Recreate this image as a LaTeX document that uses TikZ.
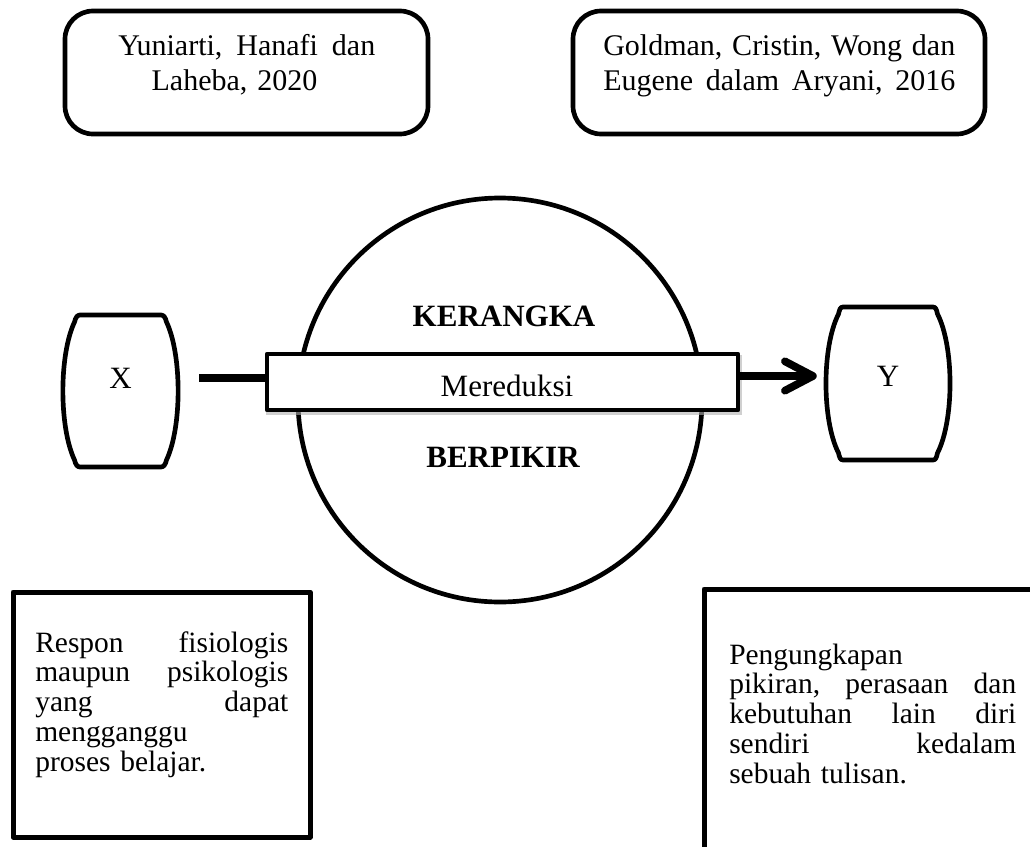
\documentclass[tikz,border=0pt]{standalone}
\usepackage{fontspec}
\setmainfont{Liberation Serif}
\usetikzlibrary{arrows.meta,fit}
\newcommand\fntTop{\fontsize{22.5pt}{26.25pt}\selectfont}
\newcommand\fntBot{\fontsize{22.1pt}{22.4pt}\selectfont}
\newcommand\fntCtr{\fontsize{23.25pt}{28pt}\selectfont}
\begin{document}
\begin{tikzpicture}[x=0.75pt,y=-0.75pt,
  bd/.style={line width=3.5pt, line join=round},
  topbox/.style={bd, draw, rounded corners=21pt, inner sep=0pt},
  sqbox/.style={draw, line width=3.75pt, line join=round, inner sep=0pt},
  txt/.style={inner sep=0pt, align=left, anchor=base west},
  conn/.style={line width=5.75pt},
  shade/.style={draw=black!30, opacity=0.6, shift={(1.5,3)}},
  lbl/.style={inner sep=0pt, font=\fntCtr}]
\clip (0,0) rectangle (1030,846);
\fill[white] (0,0) rectangle (1030,846);

% top boxes
\coordinate (tl1) at (65,11);
\coordinate (tl2) at (428,134);
\node[topbox, fit=(tl1)(tl2)] (TL) {};
\node[txt, font=\fntTop, text width=192.75pt] (TLt) at (118,55)
  {Yuniarti,\hfill Hanafi\hfill dan\\\hspace*{25pt}Laheba, 2020};
\coordinate (tr1) at (573,11);
\coordinate (tr2) at (985,134);
\node[topbox, fit=(tr1)(tr2)] (TR) {};
\node[txt, font=\fntTop, text width=264pt] (TRt) at (603,55)
  {Goldman,\hfill Cristin,\hfill Wong\hfill dan\\Eugene\hfill dalam\hfill Aryani,\hfill 2016};

% circle
\node[bd, draw, circle, minimum size=303pt, inner sep=0pt] (C) at (500,400) {};
\node[lbl, anchor=base, font=\fntCtr\bfseries] (K) at (504,326) {KERANGKA};
\node[lbl, anchor=base, font=\fntCtr\bfseries] (B) at (503,467) {BERPIKIR};

% X and Y
\node[lbl, minimum width=86.25pt] (X) at (120.5,378) {X};
\draw[bd] (80,315) -- (161,315) .. controls (164,315) and (165.5,318) .. (166.5,322)
  .. controls (182,355) and (182,427) .. (166.5,460)
  .. controls (165.5,464) and (164,467) .. (161,467) -- (80,467)
  .. controls (77,467) and (75.5,464) .. (74.5,460)
  .. controls (59,427) and (59,355) .. (74.5,322)
  .. controls (75.5,318) and (77,315) .. (80,315) -- cycle;
\node[lbl, minimum width=93pt] (Y) at (888,376) {Y};
\draw[bd] (843,307) -- (933,307) .. controls (936,307) and (936.5,310) .. (937.5,314)
  .. controls (954.2,347) and (954.2,420) .. (937.5,453)
  .. controls (936.5,457) and (936,460) .. (933,460) -- (843,460)
  .. controls (840,460) and (839.5,457) .. (838.5,453)
  .. controls (821.8,420) and (821.8,347) .. (838.5,314)
  .. controls (839.5,310) and (840,307) .. (843,307) -- cycle;

% middle bar
\coordinate (m1) at (267,354);
\coordinate (m2) at (738,410);
\draw[shade, line width=3.5pt] (267,354) rectangle (738,410);
\node[bd, draw, fill=white, inner sep=0pt, fit=(m1)(m2)] (M) {};
\draw[conn, shade] ([xshift=15.75pt]X.east) -- (X.east -| M.west);
\draw[conn] ([xshift=15.75pt]X.east) -- (X.east -| M.west);
\node[lbl, anchor=base] (Mt) at (507,396) {Mereduksi};
\draw[conn, shade, -{Straight Barb[length=21pt, width=22pt, line cap=round, line join=round]}]
  (Y.west -| M.east) -- ([xshift=-6.75pt]Y.west);
\draw[conn, -{Straight Barb[length=21pt, width=22pt, line cap=round, line join=round]}]
  (Y.west -| M.east) -- ([xshift=-6.75pt]Y.west);

% bottom boxes
\coordinate (bl1) at (13,592);
\coordinate (bl2) at (310,837);
\node[sqbox, fit=(bl1)(bl2)] (BL) {};
\node[txt, font=\fntBot, text width=189.75pt] (BLt) at (35,652)
  {Respon\hfill fisiologis\\maupun\hfill psikologis\\yang\hfill dapat\\mengganggu\\proses belajar.};
\coordinate (br1) at (704,589);
\coordinate (br2) at (1050,870);
\node[sqbox, fit=(br1)(br2)] (BR) {};
\node[txt, font=\fntBot, text width=215.25pt] (BRt) at (729,664)
  {Pengungkapan\\pikiran,\hfill perasaan\hfill dan\\kebutuhan\hfill lain\hfill diri\\sendiri\hfill kedalam\\sebuah tulisan.};
\end{tikzpicture}
\end{document}
